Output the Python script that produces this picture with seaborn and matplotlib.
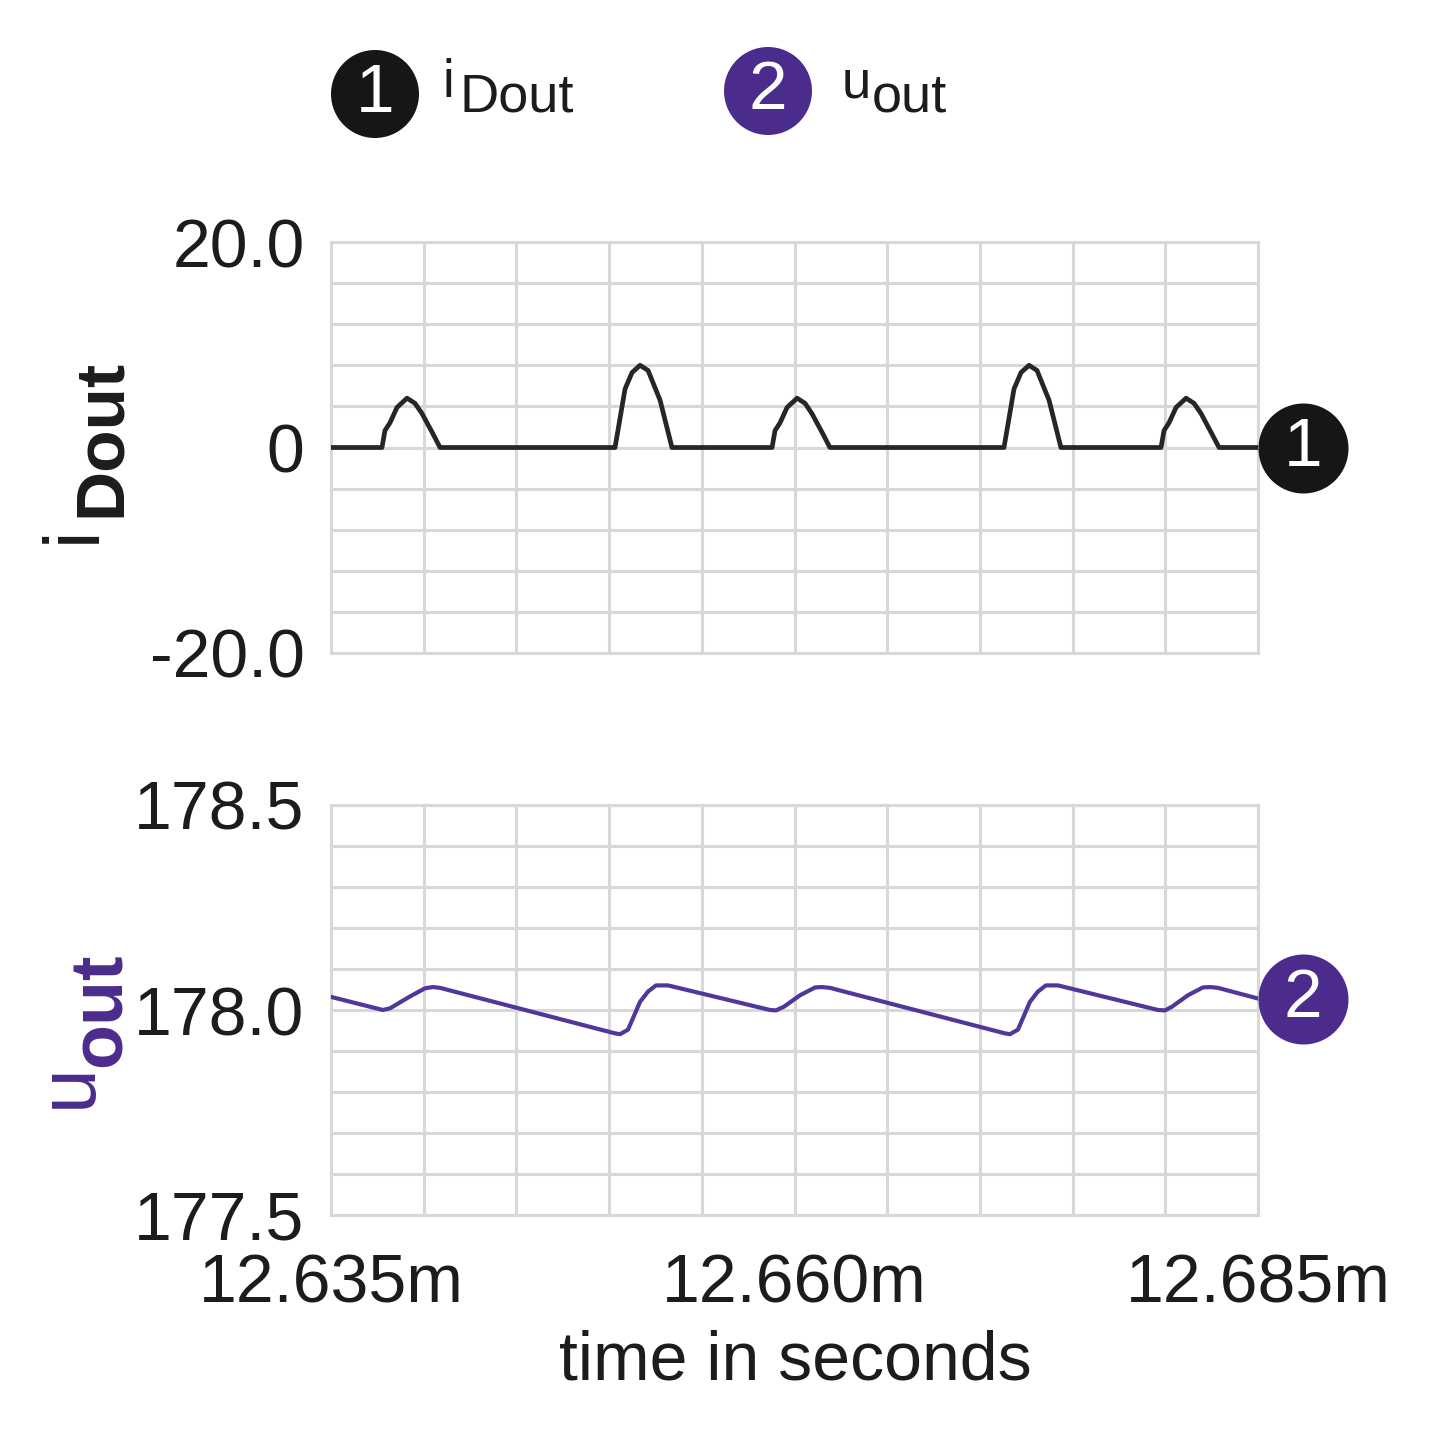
import matplotlib
matplotlib.use("Agg")
import matplotlib.pyplot as plt
from matplotlib.patches import Circle
from matplotlib.ticker import MultipleLocator, FixedLocator
import pandas as pd
import seaborn as sns

# time in ms
t_i = [12.63500, 12.63775, 12.63791, 12.63818, 12.63856, 12.63910, 12.63953, 12.63991, 12.64045, 12.64088,
       12.65032, 12.65086, 12.65124, 12.65167, 12.65210, 12.65275, 12.65339,
       12.65879, 12.65895, 12.65922, 12.65960, 12.66014, 12.66057, 12.66094, 12.66148, 12.66191,
       12.67130, 12.67184, 12.67222, 12.67265, 12.67308, 12.67373, 12.67437,
       12.67977, 12.67993, 12.68020, 12.68058, 12.68112, 12.68155, 12.68193, 12.68246, 12.68290, 12.68500]
i_dout = [0, 0, 1.65, 2.4, 3.9, 4.8, 4.3, 3.3, 1.5, 0,
          0, 5.7, 7.3, 8.0, 7.5, 4.6, 0,
          0, 1.65, 2.4, 3.9, 4.8, 4.3, 3.3, 1.5, 0,
          0, 5.7, 7.3, 8.0, 7.5, 4.6, 0,
          0, 1.65, 2.4, 3.9, 4.8, 4.3, 3.3, 1.5, 0, 0]

t_u = [12.63500, 12.63780, 12.63818, 12.63926, 12.64007, 12.64050, 12.64088,
       12.65032, 12.65059, 12.65102, 12.65167, 12.65210, 12.65253, 12.65318,
       12.65868, 12.65900, 12.65943, 12.66030, 12.66111, 12.66148, 12.66191,
       12.67135, 12.67162, 12.67205, 12.67270, 12.67313, 12.67356, 12.67421,
       12.67961, 12.67998, 12.68036, 12.68122, 12.68203, 12.68241, 12.68284, 12.68500]
u_out = [178.032, 178.000, 178.004, 178.033, 178.053, 178.056, 178.054,
         177.943, 177.941, 177.952, 178.020, 178.045, 178.060, 178.060,
         178.000, 177.999, 178.008, 178.036, 178.055, 178.056, 178.054,
         177.943, 177.941, 177.952, 178.020, 178.045, 178.060, 178.060,
         178.000, 177.999, 178.008, 178.036, 178.055, 178.056, 178.054, 178.028]

x_ticks = [12.635, 12.660, 12.685]
x_tick_labels = ["12.635m", "12.660m", "12.685m"]
i_ticks = [-20.0, 0.0, 20.0]
i_tick_labels = ["-20.0", "0", "20.0"]
u_ticks = [177.5, 178.0, 178.5]
u_tick_labels = ["177.5", "178.0", "178.5"]

BLACK = "#161616"
PURPLE = "#4B2C8C"
GRID = "#D8D8D8"
TEXT = "#1c1c1c"

sns.set_theme(style="white")
plt.rcParams["font.family"] = ["Liberation Sans", "DejaVu Sans"]

W = 1430


def fx(px):
    return px / W


def fy(py):
    return 1 - py / W


def style_axis(ax, yticks, ylabels, ystep):
    ax.set_xlim(12.635, 12.685)
    ax.set_ylim(yticks[0], yticks[-1])
    ax.xaxis.set_major_locator(FixedLocator(x_ticks))
    ax.xaxis.set_minor_locator(MultipleLocator(0.005))
    ax.yaxis.set_major_locator(FixedLocator(yticks))
    ax.yaxis.set_minor_locator(MultipleLocator(ystep))
    ax.set_yticklabels(ylabels)
    ax.grid(True, which="both", color=GRID, lw=2.2)
    ax.tick_params(which="both", length=0)
    ax.tick_params(axis="y", labelsize=49, pad=19, colors=TEXT)
    for s in ax.spines.values():
        s.set_color(GRID)
        s.set_linewidth(2.2)
    ax.set_xlabel("")
    ax.set_ylabel("")


fig = plt.figure(figsize=(14.3, 14.3), dpi=100)
ax1 = fig.add_axes([fx(331), fy(653), fx(1258) - fx(331), fy(242) - fy(653)])
ax2 = fig.add_axes([fx(331), fy(1215), fx(1258) - fx(331), fy(805) - fy(1215)])

df_i = pd.DataFrame({"t": t_i, "i": i_dout})
df_u = pd.DataFrame({"t": t_u, "u": u_out})
sns.lineplot(data=df_i, x="t", y="i", ax=ax1, color="#262626", linewidth=3.4,
             estimator=None, sort=False, zorder=3)
sns.lineplot(data=df_u, x="t", y="u", ax=ax2, color="#513799", linewidth=3.0,
             estimator=None, sort=False, zorder=3)

style_axis(ax1, i_ticks, i_tick_labels, 4)
style_axis(ax2, u_ticks, u_tick_labels, 0.1)
ax1.tick_params(axis="x", labelbottom=False)
ax2.set_xticklabels(x_tick_labels)
ax2.tick_params(axis="x", labelsize=49, pad=27, colors=TEXT)

# numbered trace markers at the right end
x_mark = 12.685 + 45 / 92.7 * 0.005
for ax, y, col, num in [(ax1, 0.0, BLACK, "1"), (ax2, 178.027, PURPLE, "2")]:
    ax.scatter([x_mark], [y], s=4200, color=col, clip_on=False, zorder=5, linewidths=0)
    ax.text(x_mark, y, num, color="white", fontsize=50, ha="center", va="center",
            clip_on=False, zorder=6)
ax1.set_xlim(12.635, 12.685)
ax2.set_xlim(12.635, 12.685)

# legend on top
for cx, cy, col, num in [(375, 94, BLACK, "1"), (768, 91, PURPLE, "2")]:
    fig.patches.append(Circle((fx(cx), fy(cy)), 44 / W, transform=fig.transFigure,
                              facecolor=col, edgecolor="none"))
    fig.text(fx(cx), fy(cy), num, color="white", fontsize=50, ha="center", va="center")
fig.text(fx(443), fy(97), "i", fontsize=38, color=TEXT)
fig.text(fx(460), fy(112), "Dout", fontsize=39, color=TEXT)
fig.text(fx(842), fy(97), "u", fontsize=38, color=TEXT)
fig.text(fx(872), fy(112), "out", fontsize=39, color=TEXT)

# rotated axis labels
lab = dict(rotation=90, rotation_mode="anchor", ha="left", va="baseline")
fig.text(fx(95), fy(543), "i", fontsize=56, color=TEXT, **lab)
fig.text(fx(120), fy(517), "Dout", fontsize=50, color=TEXT, fontweight="bold", **lab)
fig.text(fx(91), fy(1108), "u", fontsize=58, color=PURPLE, **lab)
fig.text(fx(121), fy(1067), "out", fontsize=53, color=PURPLE, fontweight="bold", **lab)

fig.text(fx(795), fy(1362), "time in seconds", fontsize=49, color=TEXT, ha="center", va="center")

fig.savefig("out.png", dpi=100, facecolor="white")
